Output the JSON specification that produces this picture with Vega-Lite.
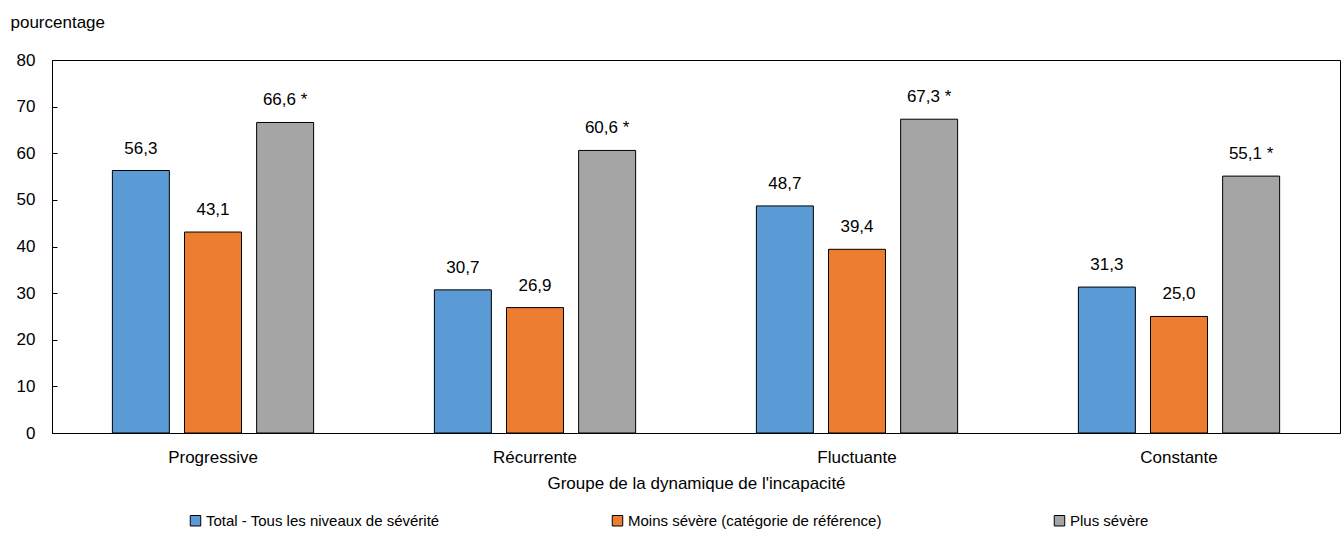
{
  "$schema": "https://vega.github.io/schema/vega-lite/v6.json",
  "width": 1288,
  "height": 373,
  "autosize": "none",
  "padding": {"left": 52, "top": 60, "right": 2, "bottom": 100},
  "background": "white",
  "config": {
    "font": "Liberation Sans",
    "view": {"stroke": "black", "strokeWidth": 1},
    "axis": {"labelFont": "Liberation Sans", "titleFont": "Liberation Sans", "labelColor": "black", "titleColor": "black", "domainColor": "black", "tickColor": "black", "labelFontSize": 17, "titleFontSize": 17, "titleFontWeight": "normal"},
    "legend": {"labelFont": "Liberation Sans", "labelFontSize": 15, "labelColor": "black"}
  },
  "data": {
    "values": [
      {"groupe": "Progressive", "serie": "Total - Tous les niveaux de sévérité", "valeur": 56.3, "etiquette": "56,3"},
      {"groupe": "Progressive", "serie": "Moins sévère (catégorie de référence)", "valeur": 43.1, "etiquette": "43,1"},
      {"groupe": "Progressive", "serie": "Plus sévère", "valeur": 66.6, "etiquette": "66,6 *"},
      {"groupe": "Récurrente", "serie": "Total - Tous les niveaux de sévérité", "valeur": 30.7, "etiquette": "30,7"},
      {"groupe": "Récurrente", "serie": "Moins sévère (catégorie de référence)", "valeur": 26.9, "etiquette": "26,9"},
      {"groupe": "Récurrente", "serie": "Plus sévère", "valeur": 60.6, "etiquette": "60,6 *"},
      {"groupe": "Fluctuante", "serie": "Total - Tous les niveaux de sévérité", "valeur": 48.7, "etiquette": "48,7"},
      {"groupe": "Fluctuante", "serie": "Moins sévère (catégorie de référence)", "valeur": 39.4, "etiquette": "39,4"},
      {"groupe": "Fluctuante", "serie": "Plus sévère", "valeur": 67.3, "etiquette": "67,3 *"},
      {"groupe": "Constante", "serie": "Total - Tous les niveaux de sévérité", "valeur": 31.3, "etiquette": "31,3"},
      {"groupe": "Constante", "serie": "Moins sévère (catégorie de référence)", "valeur": 25.0, "etiquette": "25,0"},
      {"groupe": "Constante", "serie": "Plus sévère", "valeur": 55.1, "etiquette": "55,1 *"}
    ]
  },
  "encoding": {
    "x": {
      "field": "groupe", "type": "nominal",
      "sort": ["Progressive", "Récurrente", "Fluctuante", "Constante"],
      "scale": {"paddingInner": 0.375, "paddingOuter": 0.1875},
      "axis": {"title": "Groupe de la dynamique de l'incapacité", "labelAngle": 0, "ticks": false, "labelPadding": 16, "titlePadding": 10}
    },
    "xOffset": {
      "field": "serie", "type": "nominal",
      "sort": ["Total - Tous les niveaux de sévérité", "Moins sévère (catégorie de référence)", "Plus sévère"],
      "scale": {"paddingInner": 0.21, "paddingOuter": 0}
    },
    "y": {
      "field": "valeur", "type": "quantitative",
      "scale": {"domain": [0, 80], "nice": false},
      "axis": {"values": [0, 10, 20, 30, 40, 50, 60, 70, 80], "grid": false, "tickSize": -5, "labelPadding": 22, "title": "pourcentage", "titleAngle": 0, "titleAlign": "left", "titleBaseline": "middle", "titleX": -42, "titleY": -38}
    }
  },
  "layer": [
    {
      "mark": {"type": "bar", "stroke": "black", "strokeWidth": 1},
      "encoding": {
        "color": {
          "field": "serie", "type": "nominal",
          "sort": ["Total - Tous les niveaux de sévérité", "Moins sévère (catégorie de référence)", "Plus sévère"],
          "scale": {"range": ["#5B9BD5", "#ED7D31", "#A5A5A5"]},
          "legend": {"title": null, "orient": "none", "direction": "horizontal", "columns": 3, "columnPadding": 170, "legendX": 136, "legendY": 453, "symbolType": "square", "symbolSize": 110, "symbolStrokeColor": "black", "symbolStrokeWidth": 1, "labelOffset": 3, "labelLimit": 400}
        }
      }
    },
    {
      "mark": {"type": "text", "baseline": "middle", "dy": -22, "fontSize": 17, "color": "black"},
      "encoding": {"text": {"field": "etiquette"}}
    }
  ]
}
